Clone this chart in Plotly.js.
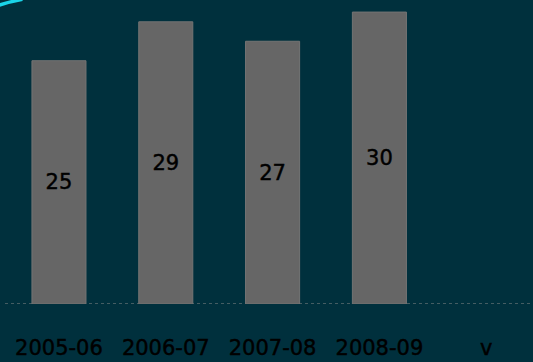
<!DOCTYPE html>
<html>
<head>
<meta charset="utf-8">
<script src="https://cdn.plot.ly/plotly-3.0.1.min.js"></script>
<style>
  html, body { margin: 0; padding: 0; background: #00303d; }
  #chart { width: 533px; height: 362px; }
  /* slightly heavier strokes for the labels */
  #chart .xtick text, #chart .bartext { stroke: #000000; stroke-width: 0.45px; }
</style>
</head>
<body>
<div id="chart"></div>
<script>
// Seasons on the category axis; the last slot has no figure yet.
const seasons = ['2005-06', '2006-07', '2007-08', '2008-09', 'v'];
const counts = [25, 29, 27, 30, null];

const labels = counts.map(v => (v === null ? '' : String(v)));

const trace = {
  type: 'bar',
  x: seasons,
  y: counts,
  text: labels,
  textposition: 'inside',
  insidetextanchor: 'middle',
  textangle: 0,
  textfont: { family: 'DejaVu Sans', size: 21, color: '#000000' },
  marker: { color: '#666666', line: { color: '#747474', width: 1 } },
  hoverinfo: 'skip'
};

const layout = {
  width: 533,
  height: 362,
  margin: { l: 0, r: 0, t: 0, b: 58 },
  paper_bgcolor: '#00303d',
  plot_bgcolor: '#00303d',
  showlegend: false,
  bargap: 0.494,
  xaxis: {
    type: 'category',
    range: [-0.552, 4.438],
    showgrid: false,
    zeroline: false,
    showline: false,
    ticks: '',
    tickfont: { family: 'DejaVu Sans', size: 21, color: '#000000' },
    ticklabelstandoff: 29
  },
  yaxis: {
    range: [0, 31.24],
    showgrid: false,
    zeroline: false,
    showline: false,
    showticklabels: false,
    ticks: ''
  },
  shapes: [
    // dotted baseline under the bars
    {
      type: 'line', xref: 'paper', yref: 'y',
      x0: 5 / 533, x1: 1, y0: 0, y1: 0,
      line: { color: '#8a8a8a', width: 1, dash: 'dot' },
      layer: 'below'
    },
    // small cyan highlight in the upper-left corner
    {
      type: 'path', xref: 'paper', yref: 'paper',
      path: 'M -0.004 0.982 Q 0.018 0.994 0.042 1.002',
      line: { color: '#1ad4e8', width: 3.5 },
      layer: 'above'
    }
  ]
};

Plotly.newPlot('chart', [trace], layout, { staticPlot: true, displayModeBar: false });
</script>
</body>
</html>
